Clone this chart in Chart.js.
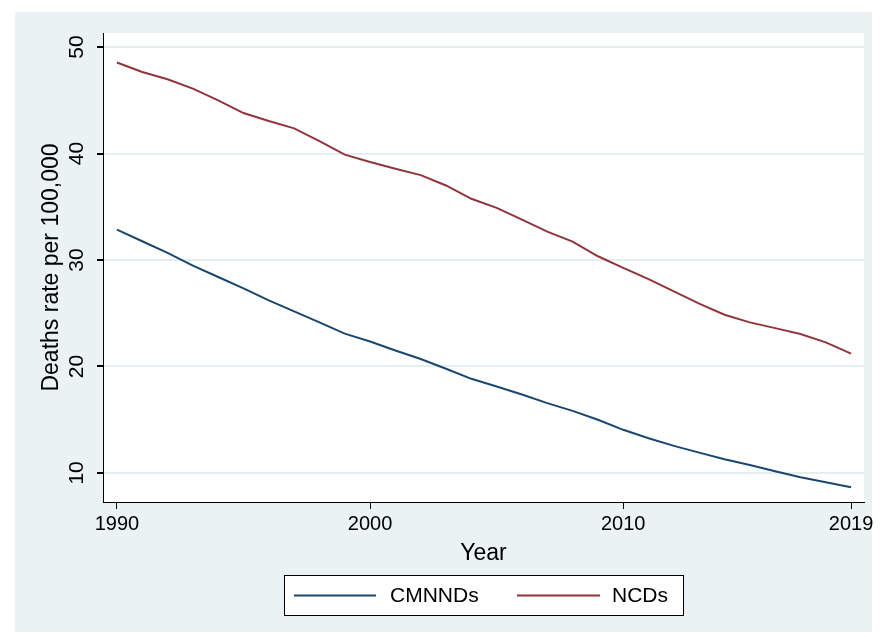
<!DOCTYPE html>
<html>
<head>
<meta charset="utf-8">
<script src="https://cdn.jsdelivr.net/npm/chart.js@4.4.1/dist/chart.umd.min.js"></script>
<style>
  html, body { margin: 0; padding: 0; background: #ffffff; }
  canvas { display: block; }
</style>
</head>
<body>
<canvas id="c" width="880" height="637"></canvas>
<script>
const years = [1990,1991,1992,1993,1994,1995,1996,1997,1998,1999,2000,2001,2002,2003,2004,2005,2006,2007,2008,2009,2010,2011,2012,2013,2014,2015,2016,2017,2018,2019];
const cmnnds = [32.86,31.76,30.67,29.47,28.4,27.34,26.2,25.17,24.14,23.08,22.35,21.5,20.7,19.78,18.84,18.12,17.37,16.56,15.83,14.99,14.05,13.26,12.54,11.91,11.29,10.75,10.16,9.6,9.13,8.65];
const ncds = [48.55,47.66,46.97,46.1,45.0,43.8,43.05,42.36,41.17,39.9,39.2,38.57,37.97,37.0,35.75,34.9,33.8,32.67,31.73,30.35,29.26,28.2,27.06,25.9,24.86,24.14,23.6,23.05,22.26,21.2];
const xTicks = [1990,2000,2010,2019];
const yTicks = [10,20,30,40,50];
const seriesNames = ['CMNNDs','NCDs'];
const xTitle = 'Year';
const yTitle = 'Deaths rate per 100,000';

const FONT = "'Liberation Sans', Arial, sans-serif";
const BG = '#eaf2f3';
const GRID = '#e4eef0';

const bgPlugin = {
  id: 'bg',
  beforeDraw(chart) {
    const ctx = chart.ctx;
    const a = chart.chartArea;
    ctx.save();
    ctx.fillStyle = '#ffffff';
    ctx.fillRect(0, 0, chart.width, chart.height);
    ctx.fillStyle = BG;
    ctx.fillRect(15, 12, 857, 620);
    ctx.fillStyle = '#ffffff';
    ctx.fillRect(a.left, a.top, a.right - a.left, a.bottom - a.top);
    ctx.restore();
  }
};

const yLabelPlugin = {
  id: 'ylabels',
  afterDraw(chart) {
    const ctx = chart.ctx;
    const s = chart.scales.y;
    ctx.save();
    ctx.fillStyle = '#000';
    ctx.font = '21px ' + FONT;
    ctx.textAlign = 'center';
    ctx.textBaseline = 'middle';
    s.ticks.forEach(t => {
      const y = s.getPixelForValue(t.value);
      ctx.save();
      ctx.translate(77, y);
      ctx.rotate(-Math.PI / 2);
      ctx.fillText(String(t.value), 0, 0);
      ctx.restore();
    });
    ctx.restore();
  }
};

const legendPlugin = {
  id: 'boxlegend',
  afterDraw(chart) {
    const ctx = chart.ctx;
    const bx = 284, by = 575, bw = 400, bh = 41;
    ctx.save();
    ctx.fillStyle = '#ffffff';
    ctx.fillRect(bx, by, bw, bh);
    ctx.strokeStyle = '#000';
    ctx.lineWidth = 1;
    ctx.strokeRect(bx + 0.5, by + 0.5, bw - 1, bh - 1);
    const cy = by + bh / 2;
    const items = [
      { x0: 294, x1: 376, tx: 390 },
      { x0: 517, x1: 600, tx: 612 }
    ];
    ctx.font = '21px ' + FONT;
    ctx.textBaseline = 'middle';
    ctx.textAlign = 'left';
    chart.data.datasets.forEach((ds, i) => {
      const it = items[i];
      ctx.strokeStyle = ds.borderColor;
      ctx.lineWidth = 2;
      ctx.beginPath();
      ctx.moveTo(it.x0, cy);
      ctx.lineTo(it.x1, cy);
      ctx.stroke();
      ctx.fillStyle = '#000';
      ctx.fillText(ds.label, it.tx, cy + 1);
    });
    ctx.restore();
  }
};

new Chart(document.getElementById('c'), {
  type: 'line',
  data: {
    datasets: [
      { label: seriesNames[0], data: years.map((y, i) => ({ x: y, y: cmnnds[i] })), borderColor: '#1a476f', borderWidth: 2, pointRadius: 0, tension: 0, fill: false },
      { label: seriesNames[1], data: years.map((y, i) => ({ x: y, y: ncds[i] })), borderColor: '#90353b', borderWidth: 2, pointRadius: 0, tension: 0, fill: false }
    ]
  },
  options: {
    responsive: false,
    animation: false,
    devicePixelRatio: 1,
    layout: { padding: { left: 0, top: 33, right: 16, bottom: 65 } },
    plugins: { legend: { display: false }, tooltip: { enabled: false } },
    scales: {
      x: {
        type: 'linear',
        min: 1989.45,
        max: 2019.51,
        afterBuildTicks: s => { s.ticks = xTicks.map(v => ({ value: v })); },
        afterFit: s => { s.height = 70; s.paddingLeft = 0; s.paddingRight = 0; },
        grid: { drawOnChartArea: false, drawTicks: true, tickLength: 7, tickColor: '#000', color: '#000', lineWidth: 1 },
        border: { display: true, color: '#000', width: 1 },
        ticks: { autoSkip: false, maxRotation: 0, minRotation: 0, color: '#000', font: { family: FONT, size: 20 }, padding: 3, callback: v => String(v) },
        title: { display: true, text: xTitle, color: '#000', font: { family: FONT, size: 23 }, padding: { top: 0, bottom: 5 } }
      },
      y: {
        type: 'linear',
        min: 7.27,
        max: 51.32,
        afterBuildTicks: s => { s.ticks = yTicks.map(v => ({ value: v })); },
        afterFit: s => { s.width = 103; s.paddingTop = 0; s.paddingBottom = 0; },
        grid: { drawOnChartArea: true, drawTicks: true, tickLength: 6, tickColor: '#000', color: GRID, lineWidth: 2 },
        border: { display: true, color: '#000', width: 1 },
        ticks: { display: false },
        title: { display: true, text: yTitle, color: '#000', font: { family: FONT, size: 23 }, padding: { top: 38, bottom: 0 } }
      }
    }
  },
  plugins: [bgPlugin, yLabelPlugin, legendPlugin]
});
</script>
</body>
</html>
